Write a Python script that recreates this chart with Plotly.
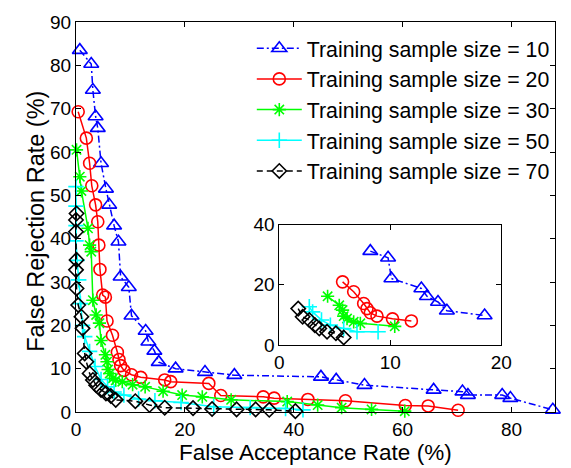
import plotly.graph_objects as go

# ---------------- data ----------------
labels = ["Training sample size = 10", "Training sample size = 20",
          "Training sample size = 30", "Training sample size = 50",
          "Training sample size = 70"]
x_title = "False Acceptance Rate (%)"
y_title = "False Rejection Rate (%)"

far_10 = [0.7, 2.8, 3.1, 3.6, 4.0, 4.6, 5.5, 6.1, 7.0, 7.8, 8.2, 9.7, 10.2, 12.8, 13.3, 14.4,
          15.2, 18.3, 23.7, 29.1, 45.0, 47.8, 53.0, 65.7, 71.0, 72.0, 78.3, 79.8, 87.6]
frr_10 = [83.5, 80.3, 74.3, 68.2, 65.5, 57.4, 51.5, 47.8, 43.0, 39.3, 31.2, 28.8, 22.2, 18.7, 16.2, 14.1,
          11.5, 10.0, 9.2, 8.5, 8.1, 7.4, 6.2, 5.1, 4.7, 3.9, 3.9, 3.2, 0.5]

far_20 = [0.4, 1.9, 2.5, 2.9, 3.6, 4.0, 4.2, 4.4, 4.9, 5.4, 5.7, 6.7, 7.6, 7.9, 8.2, 8.8, 10.2,
          11.9, 16.3, 17.4, 24.4, 26.6, 34.4, 36.4, 42.6, 49.5, 60.5, 64.7, 70.2]
frr_20 = [69.3, 63.2, 57.4, 52.2, 47.8, 43.9, 38.5, 32.9, 27.0, 26.5, 21.0, 17.7, 13.8, 12.1, 10.7, 9.6, 8.6,
          8.0, 7.4, 7.0, 6.6, 3.8, 3.5, 3.2, 2.9, 2.6, 1.5, 1.4, 0.4]

far_30 = [0.1, 0.7, 1.0, 2.2, 2.5, 2.8, 3.1, 3.7, 4.3, 4.6, 5.4, 5.7, 5.9, 6.2, 6.8, 7.3, 8.5,
          10.4, 12.7, 16.0, 19.5, 23.2, 28.5, 38.8, 44.4, 48.8, 54.3, 60.4]
frr_30 = [60.5, 54.3, 51.0, 42.4, 38.5, 37.0, 25.8, 22.4, 20.5, 16.5, 13.2, 11.6, 9.8, 8.9, 7.8, 7.3, 7.0,
          6.3, 5.8, 4.8, 3.9, 3.5, 2.8, 2.4, 1.6, 1.0, 0.6, 0.2]

far_50 = [0.0, 0.0, 0.0, 0.0, 0.2, 0.5, 0.8, 1.2, 1.6, 2.5, 3.5, 4.6, 5.8, 7.0, 8.8, 11.5, 14.5,
          19.3, 25.3, 32.0, 38.5, 41.7]
frr_50 = [52.0, 47.5, 43.0, 39.5, 35.0, 30.5, 25.0, 20.0, 17.4, 14.0, 10.5, 7.5, 5.8, 4.6, 3.9, 3.0, 2.6,
          2.2, 1.2, 1.0, 0.8, 0.5]

far_70 = [0.1, 0.0, 0.0, 0.1, 0.0, 0.1, 0.4, 1.0, 1.2, 1.6, 1.9, 2.5, 3.1, 3.7, 4.6, 5.5, 6.4, 7.3,
          10.9, 13.5, 16.3, 21.5, 25.0, 29.5, 33.0, 35.5, 40.3]
frr_70 = [45.8, 44.3, 41.6, 35.1, 32.8, 28.5, 24.7, 22.0, 19.3, 13.5, 11.6, 8.9, 7.4, 6.2, 5.1, 4.3, 3.7, 2.8,
          2.5, 1.6, 1.0, 0.9, 0.7, 0.6, 0.6, 0.5, 0.2]

# inset (zoomed view)
in_far_10 = [8.2, 9.8, 10.1, 12.8, 13.3, 14.3, 15.1, 18.5]
in_frr_10 = [31.2, 29.0, 22.1, 18.8, 16.2, 14.3, 11.4, 9.8]
in_far_20 = [5.7, 6.7, 7.6, 7.9, 8.2, 8.8, 10.2, 11.9]
in_frr_20 = [21.0, 17.7, 13.8, 12.1, 10.7, 9.6, 8.7, 8.0]
in_far_30 = [4.35, 5.4, 5.7, 5.8, 6.1, 6.7, 7.3, 10.4]
in_frr_30 = [16.2, 13.2, 11.6, 9.6, 8.8, 7.7, 7.2, 6.2]
in_far_50 = [2.7, 3.0, 3.8, 4.6, 5.8, 7.0, 8.9]
in_frr_50 = [12.7, 11.0, 8.3, 6.6, 5.5, 4.4, 4.4]
in_far_70 = [1.7, 2.1, 2.7, 3.2, 3.6, 4.3, 5.1, 5.8]
in_frr_70 = [12.1, 9.4, 8.3, 6.6, 5.5, 4.4, 3.9, 2.5]

main_xticks = [0, 20, 40, 60, 80]
main_yticks = [0, 10, 20, 30, 40, 50, 60, 70, 80, 90]
inset_xticks = [0, 10, 20]
inset_yticks = [0, 20, 40]

# ---------------- styles ----------------
colors = ["#0000ff", "#ff0000", "#00ff00", "#00ffff", "#000000"]
symbols = ["triangle-up-open", "circle-open", "asterisk-open", "cross-thin-open", "diamond-open"]
msizes = [13, 12, 11, 11, 11]
dashes = ["7px,3px,2px,3px", "solid", "solid", "solid", "6px,4px"]

main_sets = [(far_10, frr_10), (far_20, frr_20), (far_30, frr_30), (far_50, frr_50), (far_70, frr_70)]
inset_sets = [(in_far_10, in_frr_10), (in_far_20, in_frr_20), (in_far_30, in_frr_30),
              (in_far_50, in_frr_50), (in_far_70, in_frr_70)]

fig = go.Figure()
for i, (xs, ys) in enumerate(main_sets):
    fig.add_trace(go.Scatter(
        x=xs, y=ys, mode="lines+markers", name=labels[i], legendgroup=f"g{i}",
        line=dict(color=colors[i], width=1.5, dash=dashes[i]),
        marker=dict(symbol=symbols[i], size=msizes[i], color=colors[i],
                    line=dict(color=colors[i], width=1.6)),
        xaxis="x", yaxis="y", cliponaxis=False))
for i, (xs, ys) in enumerate(inset_sets):
    fig.add_trace(go.Scatter(
        x=xs, y=ys, mode="lines+markers", showlegend=False,
        line=dict(color=colors[i], width=1.5, dash=dashes[i]),
        marker=dict(symbol=symbols[i], size=msizes[i], color=colors[i],
                    line=dict(color=colors[i], width=1.6)),
        xaxis="x2", yaxis="y2", cliponaxis=False))

font_family = "Liberation Sans, Arial, sans-serif"
axis_common = dict(showgrid=False, zeroline=False, showline=True, linecolor="black", linewidth=1,
                   mirror="ticks", ticks="inside", ticklen=5, tickcolor="black",
                   tickfont=dict(family=font_family, size=19, color="black"))

fig.update_layout(
    width=571, height=468, autosize=False,
    margin=dict(l=76, r=5, t=22, b=56),
    paper_bgcolor="white", plot_bgcolor="white",
    font=dict(family=font_family, color="black"),
    xaxis=dict(range=[0, 88], tickvals=main_xticks, domain=[0, 1], **axis_common),
    yaxis=dict(range=[0, 90], tickvals=main_yticks, domain=[0, 1], **axis_common),
    xaxis2=dict(range=[0, 20], tickvals=inset_xticks, domain=[0.4245, 0.8878], anchor="y2",
                **axis_common),
    yaxis2=dict(range=[0, 40], tickvals=inset_yticks, domain=[0.1718, 0.4803], anchor="x2",
                **axis_common),
    legend=dict(x=0.367, y=0.985, xanchor="left", yanchor="top", bgcolor="rgba(0,0,0,0)",
                borderwidth=0, font=dict(family=font_family, size=21.3, color="black"),
                tracegroupgap=0, itemwidth=45),
    showlegend=True,
    annotations=[
        dict(text=x_title, xref="paper", yref="paper", x=0.5, y=-0.0667,
             xanchor="center", yanchor="top", showarrow=False,
             font=dict(family=font_family, size=22.5, color="black")),
        dict(text=y_title, xref="paper", yref="paper", x=-0.0837, y=0.49,
             xanchor="center", yanchor="middle", showarrow=False, textangle=-90,
             font=dict(family=font_family, size=23.5, color="black")),
    ],
)

fig.write_html("out.html")
